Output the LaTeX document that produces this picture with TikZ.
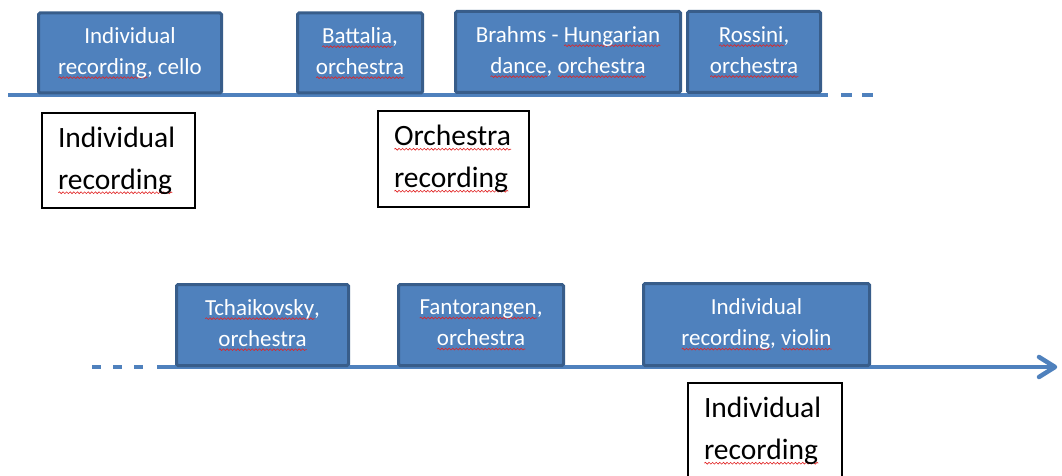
\documentclass[tikz,border=0pt]{standalone}
\usepackage{fontspec}
\setmainfont{Carlito}
\usetikzlibrary{decorations.pathmorphing}
\definecolor{piecefill}{RGB}{79,129,189}
\definecolor{pieceedge}{RGB}{56,93,138}
\definecolor{spellred}{RGB}{225,35,35}
\newsavebox{\wordbox}
\newcommand{\misspelt}[1]{\leavevmode\sbox{\wordbox}{#1}\rlap{\tikz[baseline=0pt]\draw[draw=spellred, fill=none, solid, sharp corners, line width=0.6pt, decorate, decoration={snake, amplitude=0.9pt, segment length=3.6pt}] (0pt,-3.5pt) -- (\the\wd\wordbox,-3.5pt);}\usebox{\wordbox}}
\tikzstyle{piece}=[rectangle,draw=pieceedge,line width=3pt,fill=piecefill,rounded corners=1.5pt,text=white,align=center,inner sep=0pt,font=\fontsize{23}{31}\selectfont]
\tikzstyle{tag}=[rectangle,draw=black,line width=1.2pt,fill=white,align=left,inner xsep=16pt,inner ysep=0pt,font=\fontsize{29.5}{42}\selectfont]
\tikzstyle{timeline}=[line width=4pt,draw=piecefill]

\begin{document}
\begin{tikzpicture}[x=1pt, y=-1pt]
\useasboundingbox (0, 0) rectangle (1062, 476);
% time lines
\coordinate (top start) at (8, 95);
\coordinate (top end) at (828, 95);
\coordinate (top gap) at (841, 95);
\coordinate (top more) at (874, 95);
\coordinate (low more) at (92, 367);
\coordinate (low gap) at (146, 367);
\coordinate (low start) at (157, 367);
\coordinate (low end) at (1055, 367);
\coordinate (barb up) at (1039, 357);
\coordinate (barb down) at (1039, 377);
\draw[timeline] (top start) -- (top end);
\draw[timeline, dash pattern=on 11pt off 10pt] (top gap) -- (top more);
\draw[timeline, dash pattern=on 9pt off 12pt] (low more) -- (low gap);
\draw[timeline] (low start) -- (low end);
\draw[timeline, line width=4.5pt, line cap=round, line join=round] (barb up) -- (low end) -- (barb down);
% pieces
\node[piece, minimum width=183pt, minimum height=80pt] at (130, 53) (cello) {Individual\\\misspelt{recording}, cello};
\node[piece, minimum width=125pt, minimum height=80pt] at (360, 53) (battalia) {\misspelt{Battalia},\\\misspelt{orchestra}};
\node[piece, minimum width=225pt, minimum height=81pt] at (568, 52) (brahms) {Brahms - \misspelt{Hungarian}\\\misspelt{dance}, \misspelt{orchestra}};
\node[piece, minimum width=133pt, minimum height=81pt] at (754, 52) (rossini) {\misspelt{Rossini},\\\misspelt{orchestra}};
\node[piece, minimum width=172pt, minimum height=81pt] at (262.5, 325) (tchaikovsky) {\misspelt{Tchaikovsky},\\\misspelt{orchestra}};
\node[piece, minimum width=165pt, minimum height=81pt] at (481, 325) (fantorangen) {\misspelt{Fantorangen},\\\misspelt{orchestra}};
\node[piece, minimum width=226pt, minimum height=82pt] at (756.5, 324.5) (violin) {Individual\\\misspelt{recording}, \misspelt{violin}};
% recording kinds
\node[tag, text width=121pt, minimum height=95pt] at (118.5, 160.5) (solo one) {Individual\\\misspelt{recording}};
\node[tag, text width=119pt, minimum height=96pt] at (453.5, 159) (ensemble) {\misspelt{Orchestra}\\\misspelt{recording}};
\node[tag, text width=122pt, minimum height=96pt] at (765, 431) (solo two) {Individual\\\misspelt{recording}};
\end{tikzpicture}
\end{document}
